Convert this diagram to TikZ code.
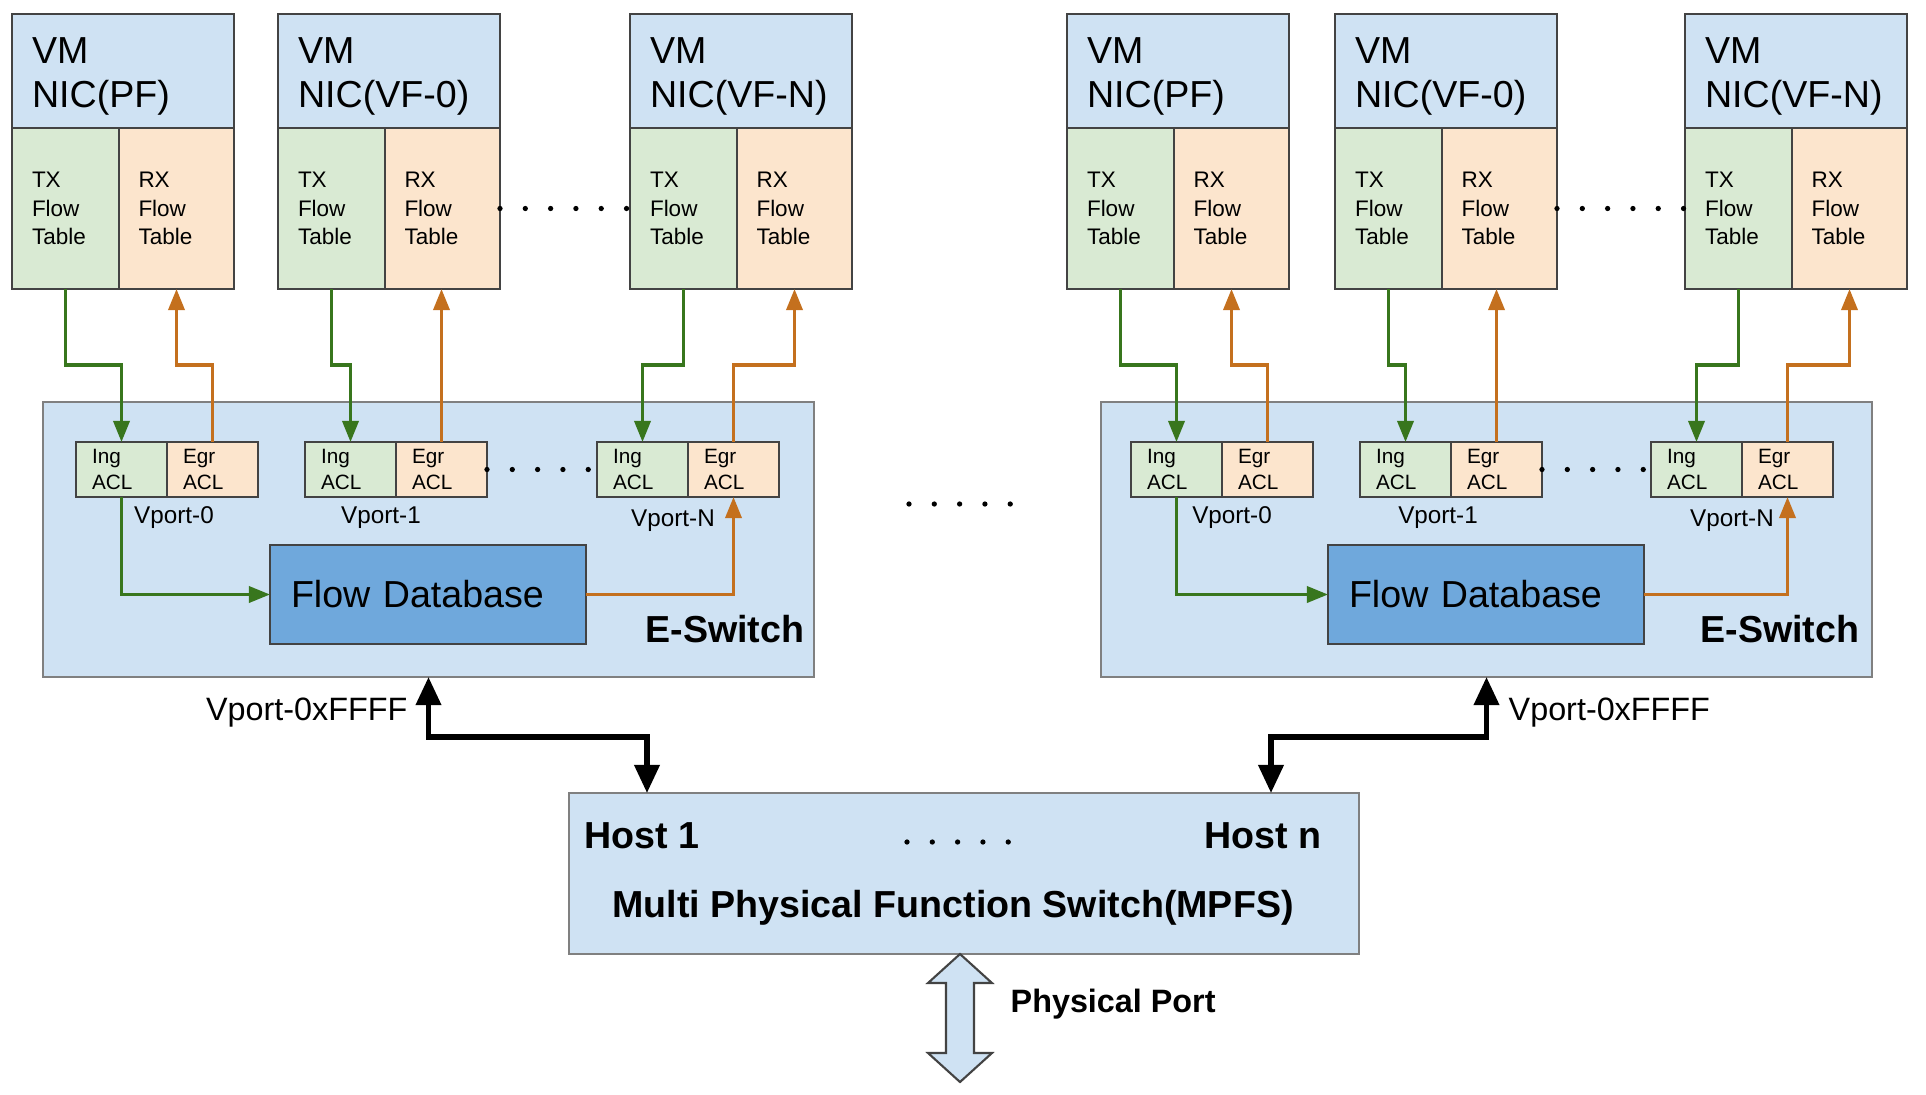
\documentclass[tikz,border=0pt]{standalone}
\usepackage{fontspec}
\setmainfont{Liberation Sans}
\usetikzlibrary{arrows.meta,positioning}
\definecolor{paleblue}{HTML}{CFE2F3}
\definecolor{palegreen}{HTML}{D9EAD3}
\definecolor{paleorange}{HTML}{FCE5CD}
\definecolor{dbblue}{HTML}{6FA8DC}
\definecolor{edgegray}{HTML}{434343}
\definecolor{txgreen}{HTML}{38761D}
\definecolor{rxorange}{HTML}{C4701E}
\newcommand{\bigtext}{\fontsize{10.7}{12.6}\selectfont}
\newcommand{\tabtext}{\fontsize{6.4}{8.1}\selectfont}
\newcommand{\acltext}{\fontsize{5.9}{7.2}\selectfont}
\newcommand{\vporttext}{\fontsize{6.9}{8}\selectfont}
\newcommand{\porttext}{\fontsize{9.2}{11}\selectfont}
\tikzset{>={Triangle[length=6pt,width=4.6pt]},
  outlined/.style={draw=edgegray,line width=0.6pt,outer sep=0pt,inner sep=0pt},
  vmhead/.style={outlined,fill=paleblue,anchor=north west,minimum width=22.2mm,
    minimum height=11.4mm,text width=18.2mm,text height=10.5pt,align=left,font=\bigtext},
  txtable/.style={outlined,fill=palegreen,minimum width=10.7mm,minimum height=16.1mm,
    text width=6.7mm,align=left,font=\tabtext},
  rxtable/.style={outlined,fill=paleorange,minimum width=11.5mm,minimum height=16.1mm,
    text width=7.6mm,align=left,font=\tabtext},
  eswitch/.style={outlined,draw=gray,fill=paleblue,anchor=north west,
    minimum width=77.1mm,minimum height=27.5mm},
  ingacl/.style={outlined,fill=palegreen,anchor=north west,minimum width=9.1mm,
    minimum height=5.5mm,text width=5.9mm,align=left,font=\acltext},
  egracl/.style={outlined,fill=paleorange,minimum width=9.1mm,minimum height=5.5mm,
    text width=5.9mm,align=left,font=\acltext},
  flowdb/.style={outlined,fill=dbblue,anchor=north west,minimum width=31.6mm,
    minimum height=9.9mm,text width=27.4mm,align=left,font=\bigtext},
  mpfsbox/.style={outlined,draw=gray,fill=paleblue,anchor=north west,minimum width=79mm,
    minimum height=16.1mm},
  textonly/.style={inner sep=0pt},
  vport/.style={textonly,font=\vporttext},
  txflow/.style={->,draw=txgreen,line width=0.9pt},
  rxflow/.style={->,draw=rxorange,line width=0.9pt},
  hostlink/.style={<->,line width=1.5pt,>={Triangle[length=8pt,width=7pt]}},
  dotrow/.style={line width=1.5pt,line cap=round,dash pattern=on 0pt off 7.2pt}}

\begin{document}
\begin{tikzpicture}[x=1mm,y=-1mm]
\useasboundingbox (0,0) rectangle (192.6,109.4);

\node (esw_) [eswitch] at (4.3,40.2) {};
\node (esw) [eswitch] at (110.1,40.2) {};
\node (eswname_) [textonly,anchor=base east,font=\bigtext\bfseries] at (80.5,64.2) {E-Switch};
\node (eswname) [textonly,anchor=base east,font=\bigtext\bfseries] at (186.0,64.2) {E-Switch};

\node (pf_) [vmhead] at (1.2,1.4) {VM\\NIC(PF)};
\node (txpf_) [txtable,below right=0pt of pf_.south west] {TX\\Flow\\Table};
\node (rxpf_) [rxtable,right=0pt of txpf_] {RX\\Flow\\Table};
\node (vf0_) [vmhead] at (27.8,1.4) {VM\\NIC(VF-0)};
\node (txvf0_) [txtable,below right=0pt of vf0_.south west] {TX\\Flow\\Table};
\node (rxvf0_) [rxtable,right=0pt of txvf0_] {RX\\Flow\\Table};
\node (vfn_) [vmhead] at (63.0,1.4) {VM\\NIC(VF-N)};
\node (txvfn_) [txtable,below right=0pt of vfn_.south west] {TX\\Flow\\Table};
\node (rxvfn_) [rxtable,right=0pt of txvfn_] {RX\\Flow\\Table};
\draw[dotrow] (rxvf0_.east) -- (txvfn_.west);

\node (ing0_) [ingacl] at (7.6,44.2) {Ing\\ACL};
\node (egr0_) [egracl,right=0pt of ing0_] {Egr\\ACL};
\node (ing1_) [ingacl] at (30.5,44.2) {Ing\\ACL};
\node (egr1_) [egracl,right=0pt of ing1_] {Egr\\ACL};
\node (ingn_) [ingacl] at (59.7,44.2) {Ing\\ACL};
\node (egrn_) [egracl,right=0pt of ingn_] {Egr\\ACL};
\draw[dotrow] (egr1_.east) -- (ingn_.west);
\node (vp0_) [vport] at (17.4,51.8) {Vport-0};
\node (vp1_) [vport] at (38.1,51.8) {Vport-1};
\node (vpn_) [vport] at (67.3,52.1) {Vport-N};
\node (db_) [flowdb] at (27.0,54.5) {Flow Database};

\draw[txflow] (txpf_.south) -- ++(0,7.6) -| (ing0_.north);
\draw[rxflow] (egr0_.north) -- ++(0,-7.7) -| (rxpf_.south);
\draw[txflow] (txvf0_.south) -- ++(0,7.6) -| (ing1_.north);
\draw[rxflow] (egr1_.north) -- (egr1_.north |- rxvf0_.south);
\draw[txflow] (txvfn_.south) -- ++(0,7.6) -| (ingn_.north);
\draw[rxflow] (egrn_.north) -- ++(0,-7.7) -| (rxvfn_.south);
\draw[txflow] (ing0_.south) |- (db_.west);
\draw[rxflow] (db_.east) -| (egrn_.south);

\node (pf) [vmhead] at (106.7,1.4) {VM\\NIC(PF)};
\node (txpf) [txtable,below right=0pt of pf.south west] {TX\\Flow\\Table};
\node (rxpf) [rxtable,right=0pt of txpf] {RX\\Flow\\Table};
\node (vf0) [vmhead] at (133.5,1.4) {VM\\NIC(VF-0)};
\node (txvf0) [txtable,below right=0pt of vf0.south west] {TX\\Flow\\Table};
\node (rxvf0) [rxtable,right=0pt of txvf0] {RX\\Flow\\Table};
\node (vfn) [vmhead] at (168.5,1.4) {VM\\NIC(VF-N)};
\node (txvfn) [txtable,below right=0pt of vfn.south west] {TX\\Flow\\Table};
\node (rxvfn) [rxtable,right=0pt of txvfn] {RX\\Flow\\Table};
\draw[dotrow] (rxvf0.east) -- (txvfn.west);

\node (ing0) [ingacl] at (113.1,44.2) {Ing\\ACL};
\node (egr0) [egracl,right=0pt of ing0] {Egr\\ACL};
\node (ing1) [ingacl] at (136.0,44.2) {Ing\\ACL};
\node (egr1) [egracl,right=0pt of ing1] {Egr\\ACL};
\node (ingn) [ingacl] at (165.1,44.2) {Ing\\ACL};
\node (egrn) [egracl,right=0pt of ingn] {Egr\\ACL};
\draw[dotrow] (egr1.east) -- (ingn.west);
\node (vp0) [vport] at (123.2,51.8) {Vport-0};
\node (vp1) [vport] at (143.8,51.8) {Vport-1};
\node (vpn) [vport] at (173.2,52.1) {Vport-N};
\node (db) [flowdb] at (132.8,54.5) {Flow Database};

\draw[txflow] (txpf.south) -- ++(0,7.6) -| (ing0.north);
\draw[rxflow] (egr0.north) -- ++(0,-7.7) -| (rxpf.south);
\draw[txflow] (txvf0.south) -- ++(0,7.6) -| (ing1.north);
\draw[rxflow] (egr1.north) -- (egr1.north |- rxvf0.south);
\draw[txflow] (txvfn.south) -- ++(0,7.6) -| (ingn.north);
\draw[rxflow] (egrn.north) -- ++(0,-7.7) -| (rxvfn.south);
\draw[txflow] (ing0.south) |- (db.west);
\draw[rxflow] (db.east) -| (egrn.south);

\coordinate (gapa) at (90.9,50.4);
\coordinate (gapb) at (101.3,50.4);
\draw[dotrow] (gapa) -- (gapb);

\node (mpfs) [mpfsbox] at (56.9,79.3) {};
\node (host1) [textonly,anchor=base west,font=\bigtext\bfseries] at (58.4,84.8) {Host 1};
\node (hostn) [textonly,anchor=base east,font=\bigtext\bfseries] at (132.2,84.8) {Host n};
\coordinate (hosta) at (90.7,84.2);
\coordinate (hostb) at (101.1,84.2);
\draw[dotrow] (hosta) -- (hostb);
\node (mpfsname) [textonly,anchor=base,font=\bigtext\bfseries] at (95.3,91.7) {Multi Physical Function Switch(MPFS)};

\coordinate (in1) at (64.7,79.3);
\coordinate (inn) at (127.1,79.3);
\draw[hostlink] (esw_.south) -- ++(0,6) -| (in1);
\draw[hostlink] (esw.south) -- ++(0,6) -| (inn);
\node (vpff_) [textonly,anchor=base east,font=\porttext] at (40.8,72.0) {Vport-0xFFFF};
\node (vpff) [textonly,anchor=base west,font=\porttext] at (150.8,72.0) {Vport-0xFFFF};

\draw[fill=paleblue,draw=edgegray,line width=0.6pt] (96.0,95.4) -- (99.2,98.3) -- (97.4,98.3)
  -- (97.4,105.3) -- (99.2,105.3) -- (96.0,108.2) -- (92.8,105.3) -- (94.6,105.3)
  -- (94.6,98.3) -- (92.8,98.3) -- cycle;
\node (phys) [textonly,anchor=base west,font=\porttext\bfseries] at (101.0,101.2) {Physical Port};

\end{tikzpicture}
\end{document}
